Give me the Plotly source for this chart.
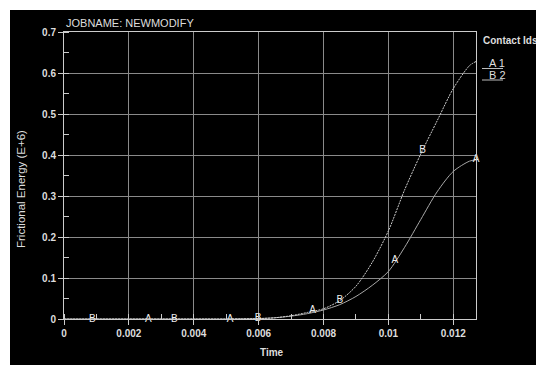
import plotly.graph_objects as go

# ---- data ----
time = [0, 0.001, 0.002, 0.003, 0.004, 0.005, 0.0055, 0.006, 0.0065, 0.007,
        0.0075, 0.008, 0.0085, 0.009, 0.0095, 0.01, 0.0105, 0.011, 0.0115,
        0.012, 0.0125, 0.0127]
contact_A = [0, 0, 0, 0, 0, 0, 0.0005, 0.001, 0.003, 0.007, 0.013, 0.022,
             0.035, 0.055, 0.082, 0.116, 0.175, 0.243, 0.31, 0.36, 0.385, 0.388]
contact_B = [0, 0, 0, 0, 0, 0, 0.0005, 0.001, 0.003, 0.008, 0.016, 0.025,
             0.045, 0.08, 0.138, 0.215, 0.315, 0.403, 0.483, 0.562, 0.618, 0.628]

label_t_A = [0.0026, 0.00512, 0.00766, 0.0102, 0.0127]
label_v_A = [0.0, 0.0, 0.02, 0.143, 0.388]
label_t_B = [0.00087, 0.0034, 0.00598, 0.0085, 0.01105]
label_v_B = [0.0, 0.0, 0.001, 0.045, 0.411]

x_ticks = [0, 0.002, 0.004, 0.006, 0.008, 0.01, 0.012]
x_tick_text = ["0", "0.002", "0.004", "0.006", "0.008", "0.01", "0.012"]
y_ticks = [0, 0.1, 0.2, 0.3, 0.4, 0.5, 0.6, 0.7]
y_tick_text = ["0", "0.1", "0.2", "0.3", "0.4", "0.5", "0.6", "0.7"]

W, H = 536, 365
L, R, T, B = 64, 60, 32, 46
PW, PH = W - L - R, H - T - B

def px(x):  # screenshot pixel -> paper fraction
    return (x - L) / PW

def py(y):
    return (H - B - y) / PH

FONT = "Liberation Sans, Arial, sans-serif"
TXT = "#dddddd"

fig = go.Figure()
fig.add_trace(go.Scatter(x=time, y=contact_A, mode="lines",
                         line=dict(color="#a8a8a8", width=1, shape="spline", smoothing=0.8),
                         hoverinfo="skip"))
fig.add_trace(go.Scatter(x=time, y=contact_B, mode="lines",
                         line=dict(color="#cfcfcf", width=1, dash="2px,1px", shape="spline",
                                   smoothing=0.8),
                         hoverinfo="skip"))
fig.add_trace(go.Scatter(x=label_t_A, y=label_v_A, mode="text", text=["A"] * len(label_t_A),
                         textfont=dict(color="#eeeeee", size=10, family=FONT),
                         textposition="middle center", cliponaxis=False, hoverinfo="skip"))
fig.add_trace(go.Scatter(x=label_t_B, y=label_v_B, mode="text", text=["B"] * len(label_t_B),
                         textfont=dict(color="#eeeeee", size=10, family=FONT),
                         textposition="middle center", cliponaxis=False, hoverinfo="skip"))

axis_common = dict(showgrid=True, gridcolor="#8a8a8a", gridwidth=1,
                   showline=True, linecolor="#cccccc", linewidth=1, mirror=True,
                   zeroline=False, ticks="outside", ticklen=5, tickcolor="#cccccc",
                   tickfont=dict(color=TXT, size=10, family=FONT, weight="bold"))

fig.update_xaxes(range=[0, 0.0127], tickvals=x_ticks, ticktext=x_tick_text,
                 minor=dict(dtick=0.001, ticks="inside", ticklen=5, tickcolor="#cccccc",
                            showgrid=False),
                 **axis_common)
fig.update_yaxes(range=[0, 0.7], tickvals=y_ticks, ticktext=y_tick_text,
                 minor=dict(dtick=0.05, ticks="inside", ticklen=5, tickcolor="#cccccc",
                            showgrid=False),
                 **axis_common)

shapes = [
    # white strips at top and left
    dict(type="rect", xref="paper", yref="paper", x0=px(-2), x1=px(540), y0=py(-2), y1=py(10),
         fillcolor="white", line=dict(width=0), layer="below"),
    dict(type="rect", xref="paper", yref="paper", x0=px(-2), x1=px(10), y0=py(-2), y1=py(370),
         fillcolor="white", line=dict(width=0), layer="below"),
    # legend underlines
    dict(type="line", xref="paper", yref="paper", x0=px(482), x1=px(503), y0=py(68.5), y1=py(68.5),
         line=dict(color="#bbbbbb", width=1)),
    dict(type="line", xref="paper", yref="paper", x0=px(482), x1=px(503), y0=py(80), y1=py(80),
         line=dict(color="#bbbbbb", width=1)),
]

annotations = [
    dict(text="JOBNAME: NEWMODIFY", xref="paper", yref="paper", x=px(64), y=py(23),
         xanchor="left", yanchor="middle", showarrow=False,
         font=dict(color=TXT, size=11, family=FONT)),
    dict(text="Contact Ids", xref="paper", yref="paper", x=px(481), y=py(41),
         xanchor="left", yanchor="middle", showarrow=False,
         font=dict(color=TXT, size=10, family=FONT, weight="bold")),
    dict(text="A 1", xref="paper", yref="paper", x=px(487), y=py(63),
         xanchor="left", yanchor="middle", showarrow=False,
         font=dict(color=TXT, size=11, family=FONT)),
    dict(text="B 2", xref="paper", yref="paper", x=px(487), y=py(75),
         xanchor="left", yanchor="middle", showarrow=False,
         font=dict(color=TXT, size=11, family=FONT)),
    dict(text="Frictional Energy (E+6)", xref="paper", yref="paper", x=px(21), y=py(189),
         xanchor="center", yanchor="middle", showarrow=False, textangle=-90,
         font=dict(color=TXT, size=11.5, family=FONT)),
    dict(text="Time", xref="paper", yref="paper", x=px(272), y=py(352),
         xanchor="center", yanchor="middle", showarrow=False,
         font=dict(color=TXT, size=10, family=FONT, weight="bold")),
]

fig.update_layout(width=W, height=H, margin=dict(l=L, r=R, t=T, b=B, pad=0),
                  paper_bgcolor="black", plot_bgcolor="black", showlegend=False,
                  shapes=shapes, annotations=annotations)

fig.write_html("out.html", config={"displayModeBar": False},
               post_script="document.body.style.margin='0';document.body.style.overflow='hidden';")
